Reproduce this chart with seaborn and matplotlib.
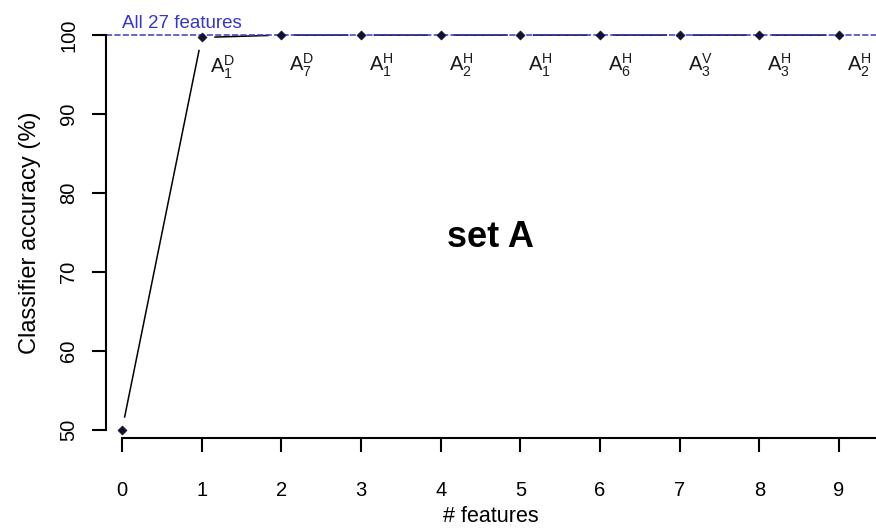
import matplotlib
matplotlib.use("Agg")
import matplotlib.pyplot as plt
import seaborn as sns
import pandas as pd

# Forward feature selection, set A
n_features = [0, 1, 2, 3, 4, 5, 6, 7, 8, 9]
accuracy = [50.0, 99.7, 100.0, 100.0, 100.0, 100.0, 100.0, 100.0, 100.0, 100.0]

# Feature added at each step: A_{sub}^{sup}
feat_sub = [1, 7, 1, 2, 1, 6, 3, 3, 2]
feat_sup = ["D", "D", "H", "H", "H", "H", "V", "H", "H"]

all_features_acc = 100.0
all_features_text = "All 27 features"
panel_title = "set A"

x_ticks = [0, 1, 2, 3, 4, 5, 6, 7, 8, 9]
y_ticks = [50, 60, 70, 80, 90, 100]

df = pd.DataFrame({"n": n_features, "acc": accuracy})

sns.set_theme(style="white")
plt.rcParams["font.family"] = ["Liberation Sans", "DejaVu Sans"]
plt.rcParams["mathtext.fontset"] = "custom"
plt.rcParams["mathtext.rm"] = "Liberation Sans"
plt.rcParams["text.color"] = "black"
plt.rcParams["axes.labelcolor"] = "black"

fig = plt.figure(figsize=(8.76, 5.28), dpi=100)
ax = fig.add_axes([0.121, 0.1705, 0.879, 0.7765])

# connecting line, with small gaps around each point
sns.lineplot(data=df, x="n", y="acc", color="black", linewidth=1.1, ax=ax, zorder=2)
sns.scatterplot(data=df, x="n", y="acc", marker="o", s=330, color="white",
                edgecolor="none", ax=ax, zorder=3, legend=False)

# reference accuracy using every feature
ax.axhline(all_features_acc, color="#3a3ac0", linewidth=1.1, linestyle=(0, (4, 1.5)), zorder=4)
ax.text(0.0, 100.9, all_features_text, color="#3535d0", fontsize=13.5,
        ha="left", va="baseline", clip_on=False)

sns.scatterplot(data=df, x="n", y="acc", marker="D", s=22, color="#121230",
                edgecolor="#121230", ax=ax, zorder=5, legend=False)

for x, y, sb, sp in zip(n_features[1:], accuracy[1:], feat_sub, feat_sup):
    ax.text(x + 0.1, y - 4.55, r"$\mathregular{A_{%d}^{%s}}$" % (sb, sp),
            fontsize=14.5, color="#1a1a1a", ha="left", va="baseline")

ax.text(4.63, 73.2, panel_title, fontsize=26, fontweight="bold",
        ha="center", va="baseline")

ax.set_xlim(-0.2008, 9.464)
ax.set_ylim(48.99, 100.9)
ax.set_xticks(x_ticks)
ax.set_yticks(y_ticks)
ax.set_yticklabels([str(v) for v in y_ticks], rotation=90, va="center")

for side in ["top", "right"]:
    ax.spines[side].set_visible(False)
ax.spines["left"].set_bounds(50, 100)
ax.spines["bottom"].set_bounds(0, 10)
for side in ["left", "bottom"]:
    ax.spines[side].set_linewidth(1.5)
    ax.spines[side].set_color("black")
    ax.spines[side].set_zorder(6)

ax.tick_params(axis="both", which="both", direction="out", length=10, width=1.5,
               color="black", labelsize=14.5, labelcolor="black")
ax.tick_params(axis="x", pad=21, bottom=True)
ax.tick_params(axis="y", pad=10, left=True)

ax.set_xlabel("# features", fontsize=15.5)
ax.set_ylabel("Classifier accuracy (%)", fontsize=17)
ax.xaxis.set_label_coords(0.5, -0.166)
ax.yaxis.set_label_coords(-0.085, 0.5)

fig.savefig("out.png", dpi=100)
